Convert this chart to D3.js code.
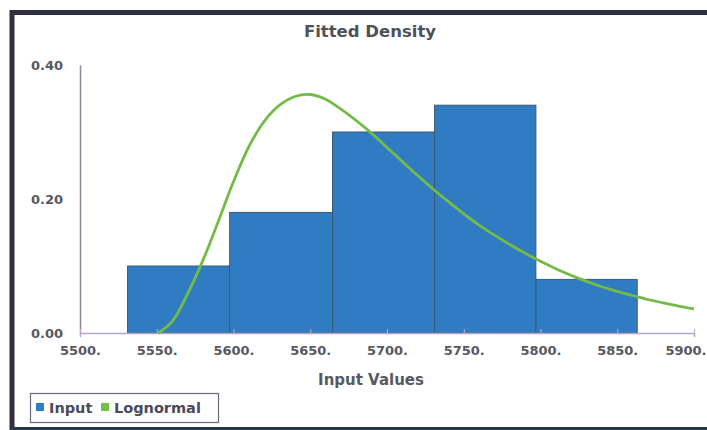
<!DOCTYPE html>
<html><head><meta charset="utf-8">
<script src="https://cdn.jsdelivr.net/npm/d3@7"></script>
<style>html,body{margin:0;padding:0;background:#fff;}svg{display:block;}</style>
</head><body>
<svg id="c" width="707" height="430"></svg>
<script>
// Histogram bins (edges) and probabilities
const binEdges = [5531, 5597.5, 5664.5, 5731, 5797, 5863];
const binValues = [0.10, 0.18, 0.30, 0.34, 0.08];
// Fitted lognormal curve points
const curveX = [5551, 5560, 5570, 5580, 5590, 5600, 5610, 5620, 5630, 5640, 5650, 5660, 5670, 5680, 5690, 5700, 5710, 5720, 5730, 5740, 5750, 5760, 5770, 5780, 5790, 5800, 5810, 5820, 5830, 5840, 5850, 5860, 5870, 5880, 5890, 5900];
const curveY = [0.000, 0.017, 0.058, 0.108, 0.166, 0.226, 0.278, 0.316, 0.340, 0.353, 0.356, 0.349, 0.334, 0.317, 0.298, 0.277, 0.256, 0.235, 0.215, 0.196, 0.178, 0.161, 0.146, 0.132, 0.119, 0.107, 0.096, 0.086, 0.077, 0.069, 0.062, 0.056, 0.050, 0.045, 0.040, 0.036];
const xTicks = [5500, 5550, 5600, 5650, 5700, 5750, 5800, 5850, 5900];
const yTicks = [0.00, 0.20, 0.40];
const title = "Fitted Density";
const xTitle = "Input Values";
const legendItems = [{name: "Input", color: "#2f7cc3"}, {name: "Lognormal", color: "#72c046"}];

const svg = d3.select("#c");
const font = "'DejaVu Sans', Verdana, sans-serif";
const txt = "#585860";

const x = d3.scaleLinear().domain([5500, 5900]).range([80, 694]);
const y = d3.scaleLinear().domain([0, 0.40]).range([333, 65]);

// frame
svg.append("rect").attr("x", 0).attr("y", 0).attr("width", 707).attr("height", 430).attr("fill", "#fff");
svg.append("line").attr("x1", 10).attr("x2", 707).attr("y1", 12.5).attr("y2", 12.5).attr("stroke", "#2f3140").attr("stroke-width", 5);
svg.append("line").attr("x1", 12).attr("x2", 12).attr("y1", 10).attr("y2", 430).attr("stroke", "#2f3140").attr("stroke-width", 5);
svg.append("line").attr("x1", 10).attr("x2", 707).attr("y1", 428.5).attr("y2", 428.5).attr("stroke", "#2a3550").attr("stroke-width", 3);

// title
svg.append("text").attr("x", 370).attr("y", 37).attr("text-anchor", "middle")
  .attr("font-family", font).attr("font-weight", "bold").attr("font-size", 16.5).attr("fill", "#505058").text(title);

// bars
const bins = binValues.map((v, i) => ({x0: binEdges[i], x1: binEdges[i + 1], v}));
svg.append("g").selectAll("rect").data(bins).join("rect")
  .attr("x", d => x(d.x0)).attr("y", d => y(d.v))
  .attr("width", d => x(d.x1) - x(d.x0)).attr("height", d => y(0) - y(d.v))
  .attr("fill", legendItems[0].color).attr("stroke", "#3d5a6e").attr("stroke-width", 1);

// axes
const yAxis = d3.axisLeft(y).tickValues(yTicks).tickFormat(d3.format(".2f")).tickSize(0).tickPadding(17);
const gy = svg.append("g").attr("transform", "translate(80,0)").call(yAxis);
gy.select(".domain").attr("stroke", "#8a8a96").attr("stroke-width", 1.5);
gy.selectAll("text").attr("font-family", font).attr("font-weight", "bold").attr("font-size", 13).attr("fill", txt);

const xAxis = d3.axisBottom(x).tickValues(xTicks).tickFormat(d => d + ".").tickSize(4).tickPadding(9);
const gx = svg.append("g").attr("transform", "translate(0,333)").call(xAxis);
gx.select(".domain").attr("stroke", "#b0a8c8").attr("stroke-width", 1.5);
gx.selectAll(".tick line").attr("stroke", "#c8a8c8").attr("transform", "translate(0,-4)");
gx.selectAll("text").attr("font-family", font).attr("font-weight", "bold").attr("font-size", 13).attr("fill", txt);
// keep the last label inside the page edge
gx.selectAll(".tick").filter(d => d === xTicks[xTicks.length - 1]).select("text")
  .attr("text-anchor", "end").attr("x", 706 - x(xTicks[xTicks.length - 1]));

svg.append("text").attr("x", 371).attr("y", 385).attr("text-anchor", "middle")
  .attr("font-family", font).attr("font-weight", "bold").attr("font-size", 15).attr("fill", txt).text(xTitle);

// curve
const pts = curveX.map((cx, i) => [cx, curveY[i]]);
const line = d3.line().x(d => x(d[0])).y(d => y(d[1])).curve(d3.curveCatmullRom);
svg.append("path").datum(pts).attr("d", line).attr("fill", "none")
  .attr("stroke", legendItems[1].color).attr("stroke-width", 2.8);
svg.append("path").datum(pts).attr("d", line).attr("fill", "none")
  .attr("stroke", "#8a9a60").attr("stroke-width", 0.8).attr("opacity", 0.5);

// legend
const lg = svg.append("g");
lg.append("rect").attr("x", 30.5).attr("y", 393.5).attr("width", 188).attr("height", 29)
  .attr("fill", "#fff").attr("stroke", "#6a6a7a").attr("stroke-width", 1.2);
const lx = [36, 101];
legendItems.forEach((it, i) => {
  lg.append("rect").attr("x", lx[i]).attr("y", 403).attr("width", 8).attr("height", 8).attr("fill", it.color);
  lg.append("text").attr("x", lx[i] + 13).attr("y", 413).attr("font-family", font).attr("font-weight", "bold")
    .attr("font-size", 14.5).attr("fill", "#4a4a5a").text(it.name);
});
</script>
</body></html>
